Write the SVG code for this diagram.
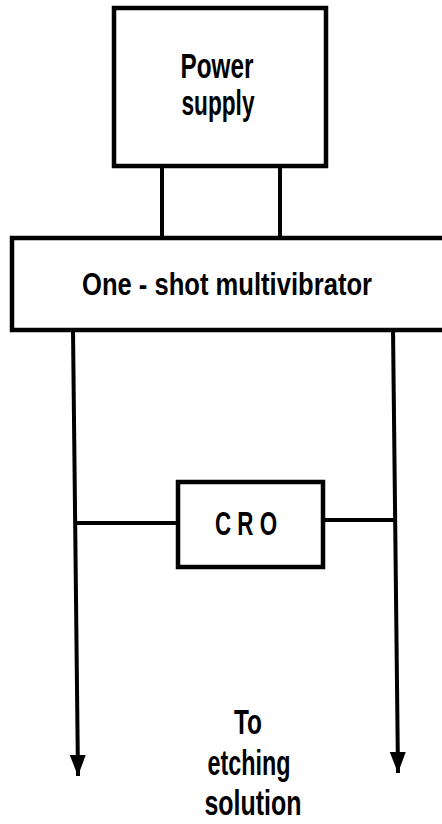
<svg xmlns="http://www.w3.org/2000/svg" width="442" height="824" viewBox="0 0 442 824">
<style>
.box{fill:#fff;stroke:#000;stroke-width:4.5}
.ln{fill:none;stroke:#000;stroke-width:4}
.t{font-family:"Liberation Sans",Arial,sans-serif;font-size:35px;font-weight:bold;fill:#000;text-anchor:middle}
</style>
<defs>
<marker id="ah" markerUnits="userSpaceOnUse" markerWidth="24" markerHeight="18" refX="22" refY="9" orient="auto" viewBox="0 0 24 18">
<path d="M1,1 L22,9 L1,17 Z" fill="#000"/>
</marker>
</defs>
<g id="connectors">
<line class="ln" x1="162" y1="165" x2="162" y2="239"/>
<line class="ln" x1="280" y1="165" x2="280" y2="239"/>
<line class="ln" x1="73" y1="330" x2="78" y2="776" marker-end="url(#ah)"/>
<line class="ln" x1="393" y1="328" x2="398" y2="773" marker-end="url(#ah)"/>
<line class="ln" x1="75" y1="523" x2="178" y2="523"/>
<line class="ln" x1="322" y1="520" x2="396" y2="520"/>
</g>
<g id="power-supply">
<rect class="box" x="114" y="8" width="212" height="158"/>
<text class="t" x="217" y="78" textLength="73" lengthAdjust="spacingAndGlyphs">Power</text>
<text class="t" x="218" y="115" textLength="73" lengthAdjust="spacingAndGlyphs">supply</text>
</g>
<g id="multivibrator">
<rect class="box" x="12" y="238" width="440" height="92"/>
<text class="t" x="227" y="295" style="font-size:31px" textLength="290" lengthAdjust="spacingAndGlyphs">One - shot  multivibrator</text>
</g>
<g id="cro">
<rect class="box" x="178" y="482" width="145" height="85"/>
<text class="t" x="246" y="535" style="font-size:33px" textLength="62" lengthAdjust="spacingAndGlyphs">C R O</text>
</g>
<g id="label">
<text class="t" x="248" y="734" textLength="28" lengthAdjust="spacingAndGlyphs">To</text>
<text class="t" x="249" y="775" textLength="83" lengthAdjust="spacingAndGlyphs">etching</text>
<text class="t" x="253" y="815" textLength="97" lengthAdjust="spacingAndGlyphs">solution</text>
</g>
</svg>
